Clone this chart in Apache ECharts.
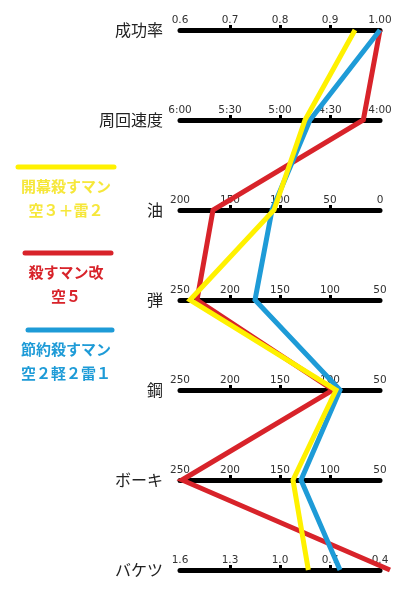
<!DOCTYPE html>
<html>
<head>
<meta charset="utf-8">
<script src="https://cdn.jsdelivr.net/npm/echarts@6/dist/echarts.min.js"></script>
<style>
html,body{margin:0;padding:0;background:#fff;}
#chart{width:400px;height:600px;}
</style>
</head>
<body>
<div id="chart"></div>
<script>
// ---- data ----
const axisNames = ['成功率', '周回速度', '油', '弾', '鋼', 'ボーキ', 'バケツ'];
// axis ranges (left value, right value)
const axisLeft  = [0.6, 360, 200, 250, 250, 250, 1.6];
const axisRight = [1.0, 240, 0, 50, 50, 50, 0.4];
// tick labels (left to right)
const tickValues = [
  [0.6, 0.7, 0.8, 0.9, 1.0],
  [360, 330, 300, 270, 240],
  [200, 150, 100, 50, 0],
  [250, 200, 150, 100, 50],
  [250, 200, 150, 100, 50],
  [250, 200, 150, 100, 50],
  [1.6, 1.3, 1.0, 0.7, 0.4]
];
const tickLabels = [
  ['0.6', '0.7', '0.8', '0.9', '1.00'],
  ['6:00', '5:30', '5:00', '4:30', '4:00'],
  ['200', '150', '100', '50', '0'],
  ['250', '200', '150', '100', '50'],
  ['250', '200', '150', '100', '50'],
  ['250', '200', '150', '100', '50'],
  ['1.6', '1.3', '1.0', '0.7', '0.4']
];
// series (周回速度 in seconds)
const seriesNames = ['開幕殺すマン 空３＋雷２', '殺すマン改 空５', '節約殺すマン 空２軽２雷１'];
const yellowVals = [0.95, 285, 106, 240, 94, 137, 0.83];
const redVals    = [1.00, 250, 167, 233, 97, 248, 0.34];
const blueVals   = [1.00, 282, 108, 175, 90, 129, 0.64];
const legendLine1 = ['開幕殺すマン', '殺すマン改', '節約殺すマン'];
const legendLine2 = ['空３＋雷２', '空５', '空２軽２雷１'];
const colors = ['#FFF100', '#D8232A', '#1E9BD7'];
const textColors = ['#F6E73A', '#D8232A', '#1E9BD7'];

// ---- build ----
const chart = echarts.init(document.getElementById('chart'));
const layoutBox = { left: 180, right: 20, top: 30, bottom: 30 };

function labelFor(i, v) {
  const vals = tickValues[i];
  let best = 0, bd = Infinity;
  for (let k = 0; k < vals.length; k++) {
    const d = Math.abs(vals[k] - v);
    if (d < bd) { bd = d; best = k; }
  }
  return tickLabels[i][best];
}
function majors(i) { return tickValues[i].slice(1, -1); }
function minors(i) {
  const v = tickValues[i], out = [];
  for (let k = 0; k < v.length - 1; k++) out.push((v[k] + v[k + 1]) / 2);
  return out;
}

const parallels = [];
const parallelAxes = [];
// P0: main (line, labels, names, major ticks up); P1: major ticks down; P2: minor up; P3: minor down
const tickCfg = [
  { vals: majors, len: -5, width: 3 },
  { vals: majors, len: 5, width: 3 },
  { vals: minors, len: -4.5, width: 1.5 },
  { vals: minors, len: 4.5, width: 1.5 }
];
for (let p = 0; p < 4; p++) {
  parallels.push(Object.assign({ layout: 'vertical', z: p === 0 ? 3 : 1 }, layoutBox));
  for (let i = 0; i < axisNames.length; i++) {
    const lo = Math.min(axisLeft[i], axisRight[i]);
    const hi = Math.max(axisLeft[i], axisRight[i]);
    const inv = axisLeft[i] > axisRight[i];
    parallelAxes.push({
      dim: i,
      parallelIndex: p,
      type: 'value',
      name: p === 0 ? axisNames[i] : '',
      nameLocation: inv ? 'end' : 'start',
      nameGap: 17,
      nameTextStyle: { fontSize: 16, color: '#222', fontFamily: 'Noto Sans CJK JP' },
      min: lo,
      max: hi,
      inverse: inv,
      axisLine: { show: p === 0, lineStyle: { color: '#000', width: 5, cap: 'round' } },
      axisTick: {
        show: true,
        customValues: tickCfg[p].vals(i),
        length: tickCfg[p].len,
        lineStyle: { color: '#000', width: tickCfg[p].width }
      },
      axisLabel: {
        show: p === 0,
        customValues: tickValues[i],
        formatter: (v) => labelFor(i, v),
        margin: -4,
        verticalAlign: 'bottom',
        fontSize: 10.5,
        fontFamily: 'DejaVu Sans',
        color: '#333'
      },
      splitLine: { show: false }
    });
  }
}

const drawOrder = [1, 2, 0];
const valsAll = [yellowVals, redVals, blueVals];
const series = drawOrder.map(s => ({
  type: 'parallel',
  parallelIndex: 0,
  name: seriesNames[s],
  z: 10,
  lineStyle: { color: colors[s], width: 5, opacity: 1 },
  emphasis: { disabled: true },
  data: [valsAll[s]]
}));

const legendY = [167, 253, 330];
const graphic = [];
const lineX = [[18, 114], [25, 111], [28, 112]];
for (let s = 0; s < 3; s++) {
  graphic.push({
    type: 'line', shape: { x1: lineX[s][0], y1: legendY[s], x2: lineX[s][1], y2: legendY[s] },
    style: { stroke: colors[s], lineWidth: 5, lineCap: 'round' }
  });
  graphic.push({
    type: 'text', x: 66, y: legendY[s] + 19,
    style: { text: legendLine1[s], fill: textColors[s], font: 'bold 15px "Noto Sans CJK JP"', textAlign: 'center', textVerticalAlign: 'middle' }
  });
  graphic.push({
    type: 'text', x: 66, y: legendY[s] + 43,
    style: { text: legendLine2[s], fill: textColors[s], font: 'bold 15px "Noto Sans CJK JP"', textAlign: 'center', textVerticalAlign: 'middle' }
  });
}

chart.setOption({
  animation: false,
  backgroundColor: '#fff',
  parallel: parallels,
  parallelAxis: parallelAxes,
  series: series,
  graphic: graphic
});
</script>
</body>
</html>
